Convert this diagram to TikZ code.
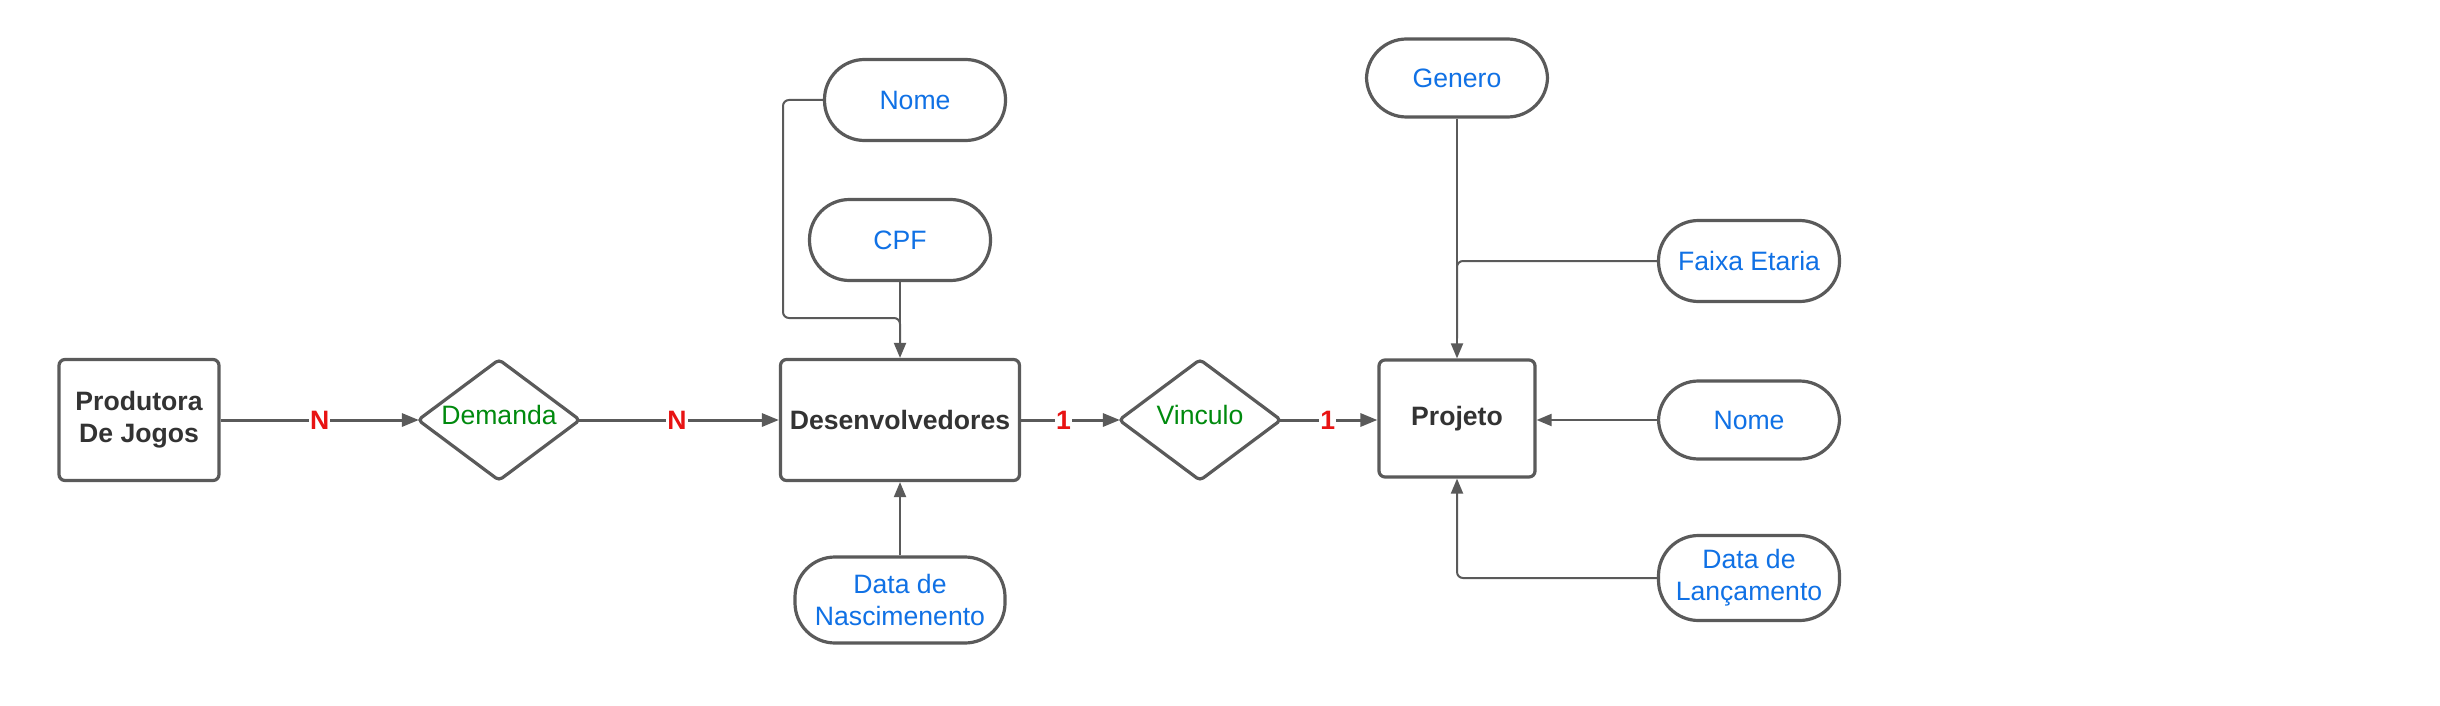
\documentclass[tikz,border=0pt]{standalone}
\usepackage{fontspec}
\setmainfont{Liberation Sans}
\usetikzlibrary{shapes.geometric,arrows.meta}
\definecolor{stroke}{HTML}{5A5A5A}
\definecolor{enttext}{HTML}{333333}
\definecolor{attrtext}{HTML}{1071E5}
\definecolor{reltext}{HTML}{008A0E}
\definecolor{cardtext}{HTML}{E81313}
\begin{document}
\begin{tikzpicture}[x=1pt,y=-1pt,
  font=\fontsize{26.6}{32}\selectfont,
  entity/.style={draw=stroke, line width=3.2pt, rectangle, rounded corners=6pt, fill=white,
    text=enttext, font=\fontsize{26.6}{32}\selectfont\bfseries, align=center, inner sep=0pt},
  rel/.style={draw=stroke, line width=3.2pt, diamond, rounded corners=4pt, fill=white,
    minimum width=163pt, minimum height=122pt, inner sep=0pt},
  reltxt/.style={text=reltext, inner sep=0pt},
  attr/.style={draw=stroke, line width=3.2pt, rectangle, rounded corners=40pt, fill=white,
    text=attrtext, align=center, inner sep=0pt, minimum width=181pt, minimum height=81pt},
  mainln/.style={draw=stroke, line width=3pt, -{Triangle[length=17pt,width=13pt]}},
  attrln/.style={draw=stroke, line width=2pt, rounded corners=6pt, -{Triangle[length=15pt,width=12pt]}},
  plainln/.style={draw=stroke, line width=2pt, rounded corners=6pt},
  card/.style={text=cardtext, font=\fontsize{26.6}{32}\selectfont\bfseries, fill=white, inner sep=1pt}
]
\useasboundingbox (0,0) rectangle (2440,706);
\fill[white] (0,0) rectangle (2440,706);

% entities
\node[entity, minimum width=160pt, minimum height=121pt] (prod) at (139,420) {Produtora\\De Jogos};
\node[entity, minimum width=239pt, minimum height=121pt] (des) at (900,420) {Desenvolvedores};
\node[entity, minimum width=156pt, minimum height=117pt] (proj) at (1457,418.5) {Projeto};

% relationships
\node[rel] (dem) at (499,420) {};
\node[reltxt] (demt) at (499,415) {Demanda};
\node[rel] (vin) at (1200,420) {};
\node[reltxt] (vint) at (1200,415) {Vinculo};

% attributes
\node[attr] (nome1) at (915,100) {Nome};
\node[attr] (cpf) at (900,240) {CPF};
\node[attr, minimum width=210pt, minimum height=86pt] (datan) at (900,600) {Data de\\Nascimenento};
\node[attr, minimum height=78pt] (gen) at (1457,78) {Genero};
\node[attr] (faixa) at (1749,261) {Faixa Etaria};
\node[attr, minimum height=78pt] (nome2) at (1749,420) {Nome};
\node[attr, minimum height=85pt] (datal) at (1749,578) {Data de\\Lançamento};

% main connectors
\draw[mainln] (prod.east) -- node[card, pos=0.5] {N} ([xshift=3pt]dem.west);
\draw[mainln] ([xshift=-3pt]dem.east) -- node[card, pos=0.49] {N} (des.west);
\draw[mainln] (des.east) -- node[card, pos=0.43] {1} ([xshift=3pt]vin.west);
\draw[mainln] ([xshift=-3pt]vin.east) -- node[card, pos=0.49] {1} (vin.east -| proj.west);

% attribute connectors
\coordinate (k1) at (783,318);
\coordinate (j1) at (900,318);
\draw[plainln] (nome1.west) -| (k1) -- (j1) -- ([yshift=14pt]des.north);
\draw[attrln] (cpf.south) -- (des.north);
\draw[attrln] (datan.north) -- (des.south);
\draw[attrln] (gen.south) -- (proj.north);
\draw[plainln] (faixa.west) -| ([yshift=20pt]proj.north);
\draw[attrln] (nome2.west) -- (nome2.west -| proj.east);
\draw[attrln] (datal.west) -| (proj.south);
\end{tikzpicture}
\end{document}
